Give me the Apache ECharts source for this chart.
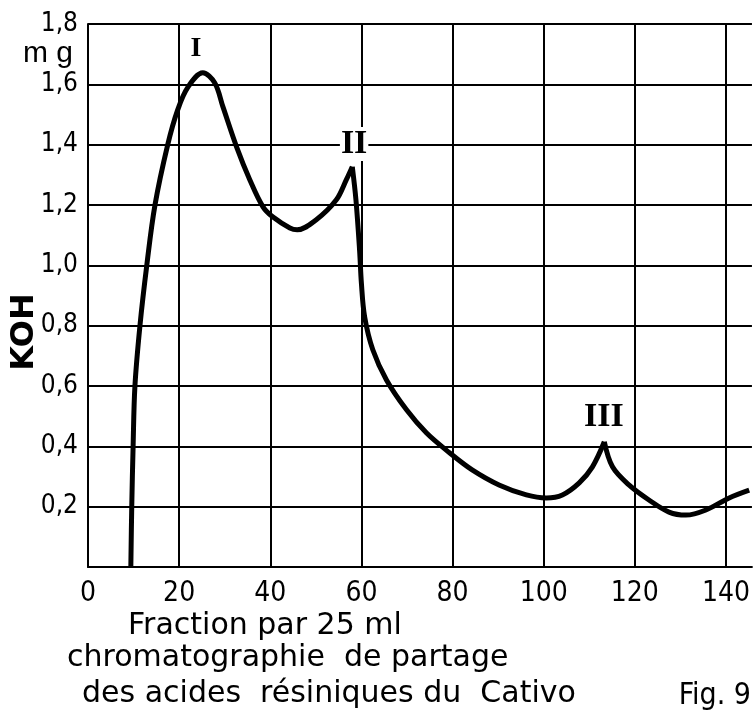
<!DOCTYPE html>
<html>
<head>
<meta charset="utf-8">
<script src="https://cdn.jsdelivr.net/npm/echarts@6.0.0/dist/echarts.min.js"></script>
<style>
  html, body { margin: 0; padding: 0; background: #fff; }
  #chart { width: 753px; height: 726px; }
</style>
</head>
<body>
<div id="chart"></div>
<script>
// fraction number (par 25 ml) and KOH in mg
const fraction = [9.4, 9.6, 9.9, 10.3, 11.4, 12.9, 14.7, 17.5, 19.7, 21.9, 25.2, 27.8, 29.6, 32.6, 35.5, 38.4, 40.6, 44.3, 45.9,
    50.1, 54.5, 56.7, 58.0, 58.8, 59.6, 60.0, 60.7, 62.5, 65.5, 69.9, 74.3, 79.4, 84.3, 90.2, 96.2, 100.6, 104.1,
    107.8, 110.7, 113.3, 115.1, 118.7, 123.1, 127.5, 131.2, 135.6, 140.7, 145.1]
const koh = [0, 0.2, 0.4, 0.6, 0.8, 1.0, 1.2, 1.4, 1.516, 1.59, 1.638, 1.605, 1.526, 1.393, 1.284, 1.194, 1.16, 1.124, 1.118,
    1.151, 1.217, 1.284, 1.327, 1.217, 1.05, 0.94, 0.83, 0.72, 0.62, 0.521, 0.444, 0.378, 0.322, 0.272, 0.239, 0.229, 0.239,
    0.279, 0.332, 0.415, 0.332, 0.272, 0.222, 0.182, 0.172, 0.189, 0.229, 0.255]

// peaks II and III are sharp, so the curve is cut there
const cuspAt = [58.0, 113.3]

// peak names and where they sit
const peakNames = ['I', 'II', 'III']
const peakX = [23.7, 58.4, 113.2]
const peakY = [1.717, 1.402, 0.497]
const peakSize = [28, 34, 34]

const xTicks = { min: 0, max: 145.7, interval: 20 }
const yTicks = { min: 0, max: 1.8, interval: 0.2 }

const captionLines = ['Fraction par 25 ml', 'chromatographie  de partage', 'des acides  résiniques du  Cativo']

const black = '#000'
const tickFont = '"Liberation Sans Narrow", "DejaVu Sans Condensed", "Liberation Sans", sans-serif'
const textFont = '"DejaVu Sans", sans-serif'
const figFont = '"DejaVu Sans Condensed", "DejaVu Sans", sans-serif'

// split the points into pieces, each piece ends on a cusp
const points = fraction.map((x, i) => [x, koh[i]])
const pieces = []
let start = 0
cuspAt.forEach((c) => {
    const end = fraction.indexOf(c)
    pieces.push(points.slice(start, end + 1))
    start = end
})
pieces.push(points.slice(start))

const curveSeries = pieces.map((piece) => {
    return {
        type: 'line',
        data: piece,
        showSymbol: false,
        smooth: 0.35,
        lineStyle: { color: black, width: 5 },
        z: 3,
    }
})

const chart = echarts.init(document.getElementById('chart'))

chart.setOption({
    animation: false,
    backgroundColor: '#fff',
    grid: {
        left: 88,
        top: 24,
        right: 0,
        bottom: 159,
    },
    xAxis: {
        type: 'value',
        min: xTicks.min,
        max: xTicks.max,
        interval: xTicks.interval,
        axisLine: { show: true, lineStyle: { color: black, width: 2 } },
        axisTick: { show: false },
        splitLine: { show: true, showMaxLine: false, lineStyle: { color: black, width: 2 } },
        axisLabel: {
            showMaxLabel: false,
            color: black,
            fontFamily: tickFont,
            fontSize: 28,
            margin: 13,
        },
    },
    yAxis: {
        type: 'value',
        min: yTicks.min,
        max: yTicks.max,
        interval: yTicks.interval,
        axisLine: { show: true, lineStyle: { color: black, width: 2 } },
        axisTick: { show: false },
        splitLine: { show: true, lineStyle: { color: black, width: 2 } },
        axisLabel: {
            color: black,
            fontFamily: tickFont,
            fontSize: 26,
            margin: 10,
            formatter: function (value) {
                if (value === 0) return ''
                return value.toFixed(1).replace('.', ',')
            },
        },
    },
    series: curveSeries.concat([
        {
            type: 'scatter',
            symbolSize: 0,
            itemStyle: { opacity: 1 },
            data: peakNames.map((name, i) => ({
                name: name,
                value: [peakX[i], peakY[i]],
                label: { fontSize: peakSize[i] },
            })),
            label: {
                show: true,
                position: 'inside',
                formatter: '{b}',
                color: black,
                opacity: 1,
                fontFamily: '"Liberation Serif", serif',
                fontWeight: 'bold',
                backgroundColor: '#fff',
                padding: [0, 1],
            },
            z: 4,
        },
    ]),
    graphic: [
        {
            type: 'text',
            x: 23,
            y: 54,
            style: { text: 'm g', font: '30px "Liberation Sans"', fill: black, textVerticalAlign: 'middle', verticalAlign: 'middle' },
        },
        {
            type: 'text',
            x: 25,
            y: 332,
            rotation: Math.PI / 2,
            style: {
                text: 'KOH', font: 'bold 32px "DejaVu Sans"', fill: black,
                textAlign: 'center', align: 'center', textVerticalAlign: 'middle', verticalAlign: 'middle',
            },
        },
        {
            type: 'text',
            x: 128,
            y: 626,
            style: { text: captionLines[0], font: '30px ' + textFont, fill: black, textVerticalAlign: 'middle', verticalAlign: 'middle' },
        },
        {
            type: 'text',
            x: 67,
            y: 658,
            style: { text: captionLines[1], font: '30px ' + textFont, fill: black, textVerticalAlign: 'middle', verticalAlign: 'middle' },
        },
        {
            type: 'text',
            x: 82,
            y: 694,
            style: { text: captionLines[2], font: '30px ' + textFont, fill: black, textVerticalAlign: 'middle', verticalAlign: 'middle' },
        },
        {
            type: 'text',
            x: 751,
            y: 696,
            style: {
                text: 'Fig. 9', font: '30px ' + figFont, fill: black,
                textAlign: 'right', align: 'right', textVerticalAlign: 'middle', verticalAlign: 'middle',
            },
        },
    ],
})
</script>
</body>
</html>
